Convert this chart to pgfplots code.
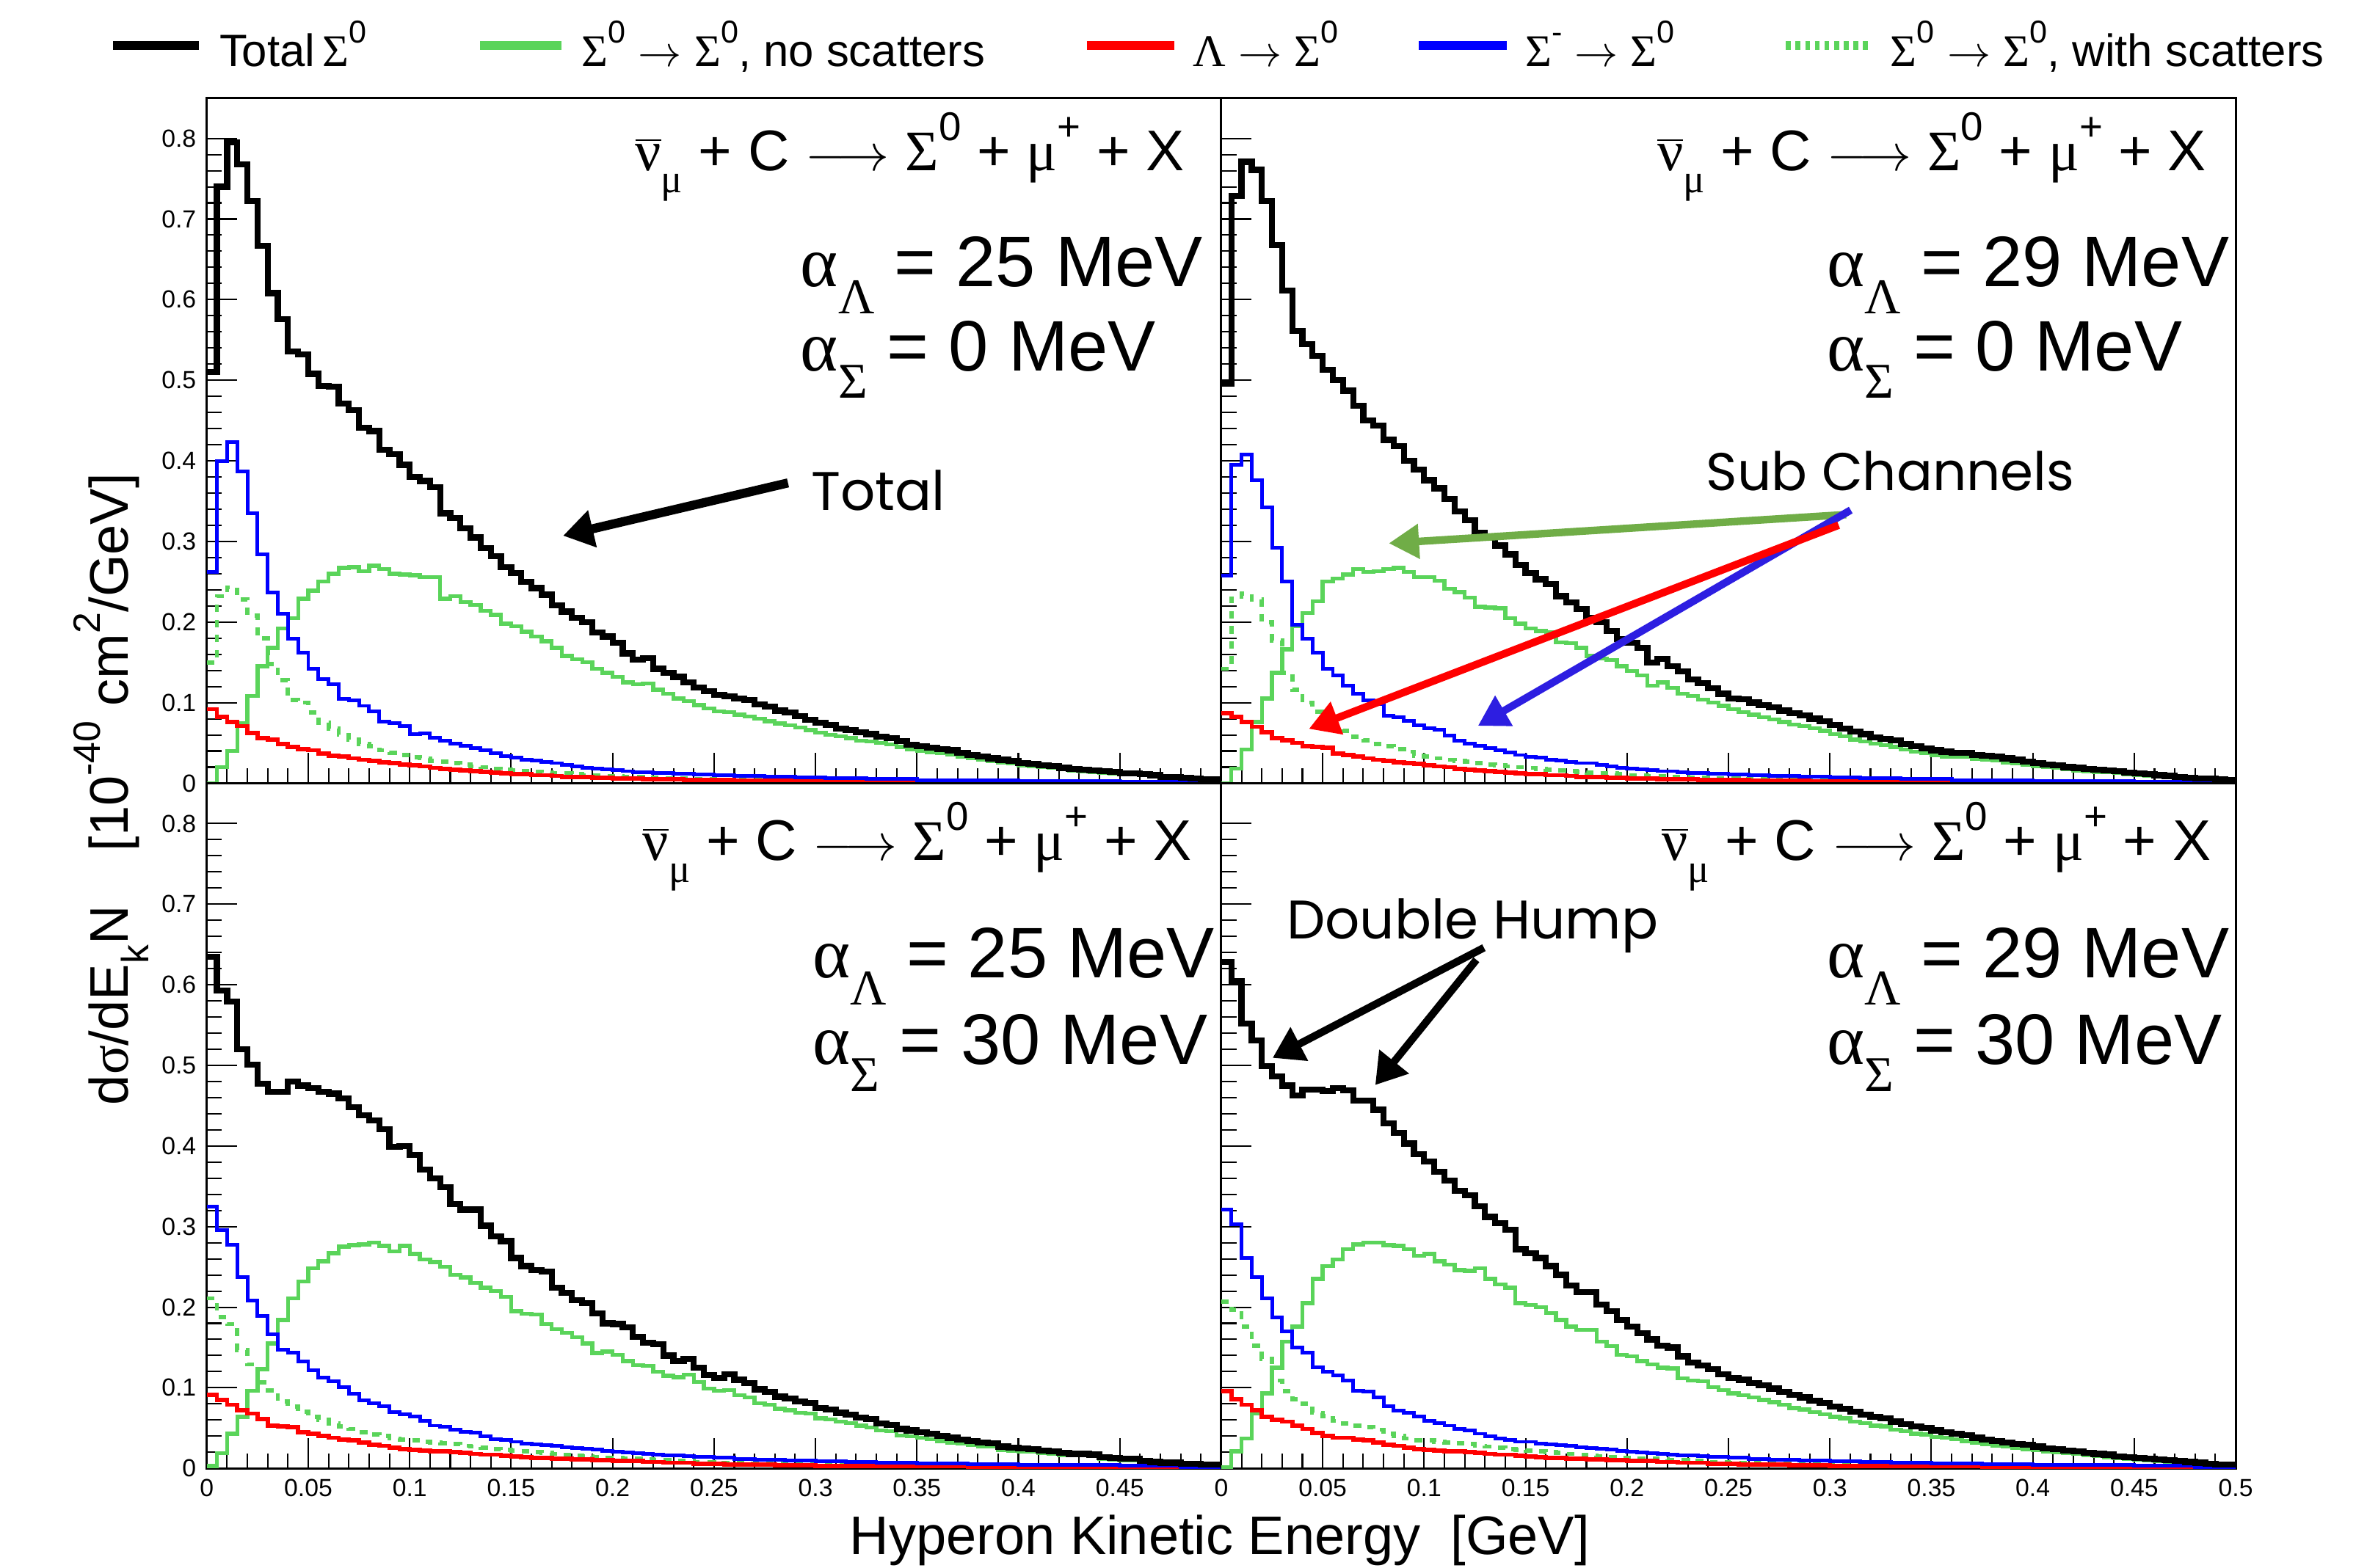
\documentclass[border=0pt]{standalone}
\usepackage{fontspec}
\setmainfont{Liberation Sans}
\newfontfamily\grk{Liberation Serif}
\newfontfamily\ann{Poppins}
\usepackage{pgfplots}
\pgfplotsset{compat=1.18}
\usepackage{pgfplotstable}
\usetikzlibrary{arrows.meta}

\definecolor{hgreen}{RGB}{90,212,90}
\definecolor{hred}{RGB}{255,0,0}
\definecolor{hblue}{RGB}{0,0,255}
\definecolor{agreen}{RGB}{112,173,71}
\definecolor{ablue}{RGB}{45,30,225}

\newcommand\su[1]{\raisebox{-0.38em}{\scalebox{0.7}{#1}}}
\newcommand\up[1]{\raisebox{0.52em}{\scalebox{0.7}{#1}}}
\newcommand\nubar{\ensuremath{\overline{\hbox{\grk ν}}}}
\newcommand\reac{\nubar\su{\grk μ} + C $\longrightarrow$ {\grk Σ}\up{0} + {\grk μ}\up{+} + X}

% x = lower bin edge (GeV); columns: total, Sigma0 no scatters, Lambda, Sigma-, Sigma0 with scatters
\pgfplotstableread{
x tot nos lam sig wsc
0.000 0.510 0.000 0.092 0.262 0.150
0.005 0.740 0.020 0.082 0.400 0.232
0.010 0.795 0.040 0.076 0.423 0.243
0.015 0.768 0.074 0.071 0.387 0.228
0.020 0.722 0.108 0.062 0.335 0.208
0.025 0.667 0.145 0.056 0.284 0.180
0.030 0.608 0.168 0.054 0.237 0.148
0.035 0.576 0.192 0.049 0.210 0.128
0.040 0.536 0.205 0.045 0.179 0.103
0.045 0.532 0.229 0.042 0.162 0.100
0.050 0.508 0.239 0.041 0.142 0.088
0.055 0.493 0.250 0.037 0.129 0.075
0.060 0.492 0.260 0.034 0.123 0.068
0.065 0.471 0.267 0.033 0.105 0.060
0.070 0.463 0.268 0.031 0.103 0.054
0.075 0.441 0.263 0.029 0.096 0.049
0.080 0.437 0.270 0.028 0.089 0.046
0.085 0.414 0.266 0.026 0.076 0.041
0.090 0.408 0.260 0.025 0.075 0.038
0.095 0.395 0.259 0.023 0.071 0.035
0.100 0.380 0.258 0.022 0.061 0.032
0.105 0.375 0.256 0.021 0.062 0.031
0.110 0.367 0.256 0.019 0.056 0.028
0.115 0.335 0.229 0.018 0.053 0.027
0.120 0.329 0.232 0.017 0.049 0.025
0.125 0.316 0.225 0.016 0.046 0.023
0.130 0.305 0.221 0.015 0.044 0.021
0.135 0.292 0.214 0.014 0.041 0.020
0.140 0.282 0.209 0.013 0.037 0.018
0.145 0.268 0.198 0.012 0.034 0.017
0.150 0.261 0.195 0.011 0.032 0.016
0.155 0.250 0.188 0.011 0.029 0.015
0.160 0.242 0.182 0.010 0.028 0.014
0.165 0.234 0.176 0.010 0.026 0.013
0.170 0.221 0.168 0.009 0.025 0.012
0.175 0.213 0.158 0.008 0.023 0.012
0.180 0.205 0.154 0.008 0.021 0.011
0.185 0.200 0.150 0.008 0.019 0.010
0.190 0.187 0.142 0.007 0.018 0.010
0.195 0.182 0.137 0.007 0.017 0.009
0.200 0.174 0.132 0.006 0.016 0.009
0.205 0.161 0.125 0.006 0.015 0.008
0.210 0.153 0.123 0.006 0.014 0.008
0.215 0.155 0.124 0.005 0.014 0.007
0.220 0.142 0.116 0.005 0.013 0.007
0.225 0.137 0.111 0.005 0.013 0.006
0.230 0.132 0.105 0.005 0.012 0.006
0.235 0.125 0.102 0.004 0.012 0.006
0.240 0.119 0.097 0.004 0.011 0.005
0.245 0.114 0.093 0.004 0.011 0.005
0.250 0.110 0.089 0.004 0.010 0.005
0.255 0.108 0.088 0.004 0.010 0.004
0.260 0.105 0.085 0.003 0.009 0.004
0.265 0.103 0.083 0.003 0.009 0.004
0.270 0.098 0.080 0.003 0.009 0.004
0.275 0.095 0.077 0.003 0.008 0.004
0.280 0.090 0.074 0.003 0.008 0.004
0.285 0.088 0.072 0.003 0.008 0.004
0.290 0.083 0.069 0.002 0.007 0.004
0.295 0.079 0.066 0.002 0.007 0.004
0.300 0.075 0.063 0.002 0.007 0.003
0.305 0.072 0.060 0.002 0.006 0.003
0.310 0.068 0.058 0.002 0.006 0.003
0.315 0.066 0.056 0.002 0.006 0.003
0.320 0.063 0.053 0.002 0.006 0.003
0.325 0.061 0.052 0.002 0.005 0.003
0.330 0.058 0.050 0.002 0.005 0.003
0.335 0.056 0.048 0.002 0.005 0.003
0.340 0.052 0.045 0.002 0.005 0.003
0.345 0.048 0.042 0.002 0.005 0.003
0.350 0.046 0.040 0.002 0.004 0.003
0.355 0.044 0.038 0.002 0.004 0.003
0.360 0.042 0.037 0.002 0.004 0.003
0.365 0.041 0.036 0.002 0.004 0.003
0.370 0.038 0.033 0.002 0.004 0.003
0.375 0.035 0.031 0.002 0.004 0.002
0.380 0.033 0.029 0.002 0.004 0.002
0.385 0.031 0.027 0.002 0.004 0.002
0.390 0.029 0.026 0.002 0.004 0.002
0.395 0.028 0.025 0.002 0.004 0.002
0.400 0.025 0.022 0.001 0.003 0.002
0.405 0.024 0.021 0.001 0.003 0.002
0.410 0.022 0.020 0.001 0.003 0.002
0.415 0.021 0.019 0.001 0.003 0.002
0.420 0.019 0.017 0.001 0.003 0.002
0.425 0.018 0.016 0.001 0.003 0.002
0.430 0.017 0.015 0.001 0.003 0.002
0.435 0.016 0.014 0.001 0.003 0.002
0.440 0.015 0.013 0.001 0.003 0.002
0.445 0.014 0.012 0.001 0.003 0.002
0.450 0.012 0.011 0.001 0.002 0.001
0.455 0.012 0.011 0.001 0.002 0.001
0.460 0.011 0.010 0.001 0.002 0.001
0.465 0.010 0.009 0.001 0.002 0.001
0.470 0.008 0.007 0.001 0.002 0.001
0.475 0.008 0.007 0.001 0.002 0.001
0.480 0.007 0.006 0.001 0.002 0.001
0.485 0.006 0.005 0.001 0.002 0.001
0.490 0.005 0.004 0.001 0.002 0.001
0.495 0.005 0.004 0.001 0.002 0.001
0.500 0.005 0.004 0.001 0.002 0.001
}\tTL

\pgfplotstableread{
x tot nos lam sig wsc
0.000 0.496 0.000 0.087 0.258 0.142
0.005 0.729 0.018 0.082 0.395 0.229
0.010 0.771 0.042 0.076 0.408 0.235
0.015 0.761 0.076 0.070 0.376 0.228
0.020 0.722 0.105 0.063 0.342 0.200
0.025 0.668 0.137 0.056 0.292 0.177
0.030 0.611 0.166 0.053 0.250 0.137
0.035 0.561 0.195 0.050 0.197 0.116
0.040 0.545 0.211 0.046 0.179 0.100
0.045 0.530 0.226 0.045 0.162 0.089
0.050 0.513 0.250 0.044 0.142 0.076
0.055 0.500 0.254 0.037 0.134 0.071
0.060 0.487 0.259 0.035 0.121 0.065
0.065 0.468 0.266 0.033 0.111 0.058
0.070 0.450 0.262 0.031 0.103 0.053
0.075 0.444 0.263 0.029 0.098 0.049
0.080 0.426 0.266 0.028 0.084 0.046
0.085 0.418 0.267 0.026 0.082 0.042
0.090 0.400 0.262 0.025 0.077 0.039
0.095 0.389 0.256 0.024 0.072 0.034
0.100 0.376 0.256 0.022 0.068 0.033
0.105 0.366 0.251 0.021 0.066 0.031
0.110 0.353 0.241 0.020 0.059 0.029
0.115 0.337 0.237 0.018 0.053 0.028
0.120 0.326 0.230 0.017 0.049 0.027
0.125 0.311 0.219 0.016 0.046 0.025
0.130 0.305 0.218 0.015 0.044 0.023
0.135 0.295 0.217 0.014 0.041 0.022
0.140 0.284 0.205 0.013 0.038 0.021
0.145 0.271 0.198 0.012 0.035 0.020
0.150 0.261 0.192 0.011 0.033 0.019
0.155 0.253 0.189 0.011 0.032 0.018
0.160 0.247 0.187 0.010 0.029 0.017
0.165 0.232 0.175 0.010 0.028 0.016
0.170 0.224 0.174 0.009 0.026 0.015
0.175 0.216 0.168 0.008 0.025 0.014
0.180 0.205 0.158 0.008 0.025 0.013
0.185 0.200 0.155 0.008 0.023 0.012
0.190 0.189 0.153 0.007 0.021 0.012
0.195 0.179 0.145 0.007 0.019 0.011
0.200 0.174 0.139 0.006 0.018 0.010
0.205 0.168 0.134 0.006 0.017 0.010
0.210 0.150 0.121 0.006 0.016 0.009
0.215 0.154 0.125 0.005 0.015 0.009
0.220 0.145 0.118 0.005 0.015 0.008
0.225 0.139 0.111 0.005 0.014 0.008
0.230 0.129 0.108 0.005 0.013 0.007
0.235 0.124 0.104 0.004 0.013 0.007
0.240 0.118 0.100 0.004 0.012 0.006
0.245 0.111 0.096 0.004 0.012 0.006
0.250 0.105 0.092 0.004 0.011 0.006
0.255 0.104 0.088 0.004 0.011 0.005
0.260 0.100 0.085 0.003 0.010 0.005
0.265 0.097 0.082 0.003 0.010 0.005
0.270 0.094 0.079 0.003 0.009 0.005
0.275 0.090 0.076 0.003 0.009 0.004
0.280 0.087 0.073 0.003 0.009 0.004
0.285 0.084 0.071 0.003 0.008 0.004
0.290 0.080 0.068 0.002 0.008 0.004
0.295 0.077 0.065 0.002 0.008 0.004
0.300 0.072 0.061 0.002 0.007 0.003
0.305 0.068 0.058 0.002 0.007 0.003
0.310 0.064 0.054 0.002 0.007 0.003
0.315 0.061 0.052 0.002 0.006 0.003
0.320 0.057 0.049 0.002 0.006 0.003
0.325 0.055 0.047 0.002 0.006 0.003
0.330 0.053 0.045 0.002 0.006 0.003
0.335 0.049 0.042 0.002 0.005 0.003
0.340 0.046 0.039 0.002 0.005 0.003
0.345 0.043 0.037 0.002 0.005 0.003
0.350 0.041 0.035 0.002 0.005 0.003
0.355 0.039 0.033 0.002 0.005 0.003
0.360 0.038 0.033 0.002 0.004 0.003
0.365 0.038 0.033 0.002 0.004 0.003
0.370 0.035 0.030 0.002 0.004 0.003
0.375 0.034 0.029 0.002 0.004 0.002
0.380 0.033 0.028 0.002 0.004 0.002
0.385 0.031 0.026 0.002 0.004 0.002
0.390 0.029 0.025 0.002 0.004 0.002
0.395 0.027 0.023 0.002 0.004 0.002
0.400 0.025 0.021 0.001 0.003 0.002
0.405 0.023 0.020 0.001 0.003 0.002
0.410 0.022 0.019 0.001 0.003 0.002
0.415 0.020 0.017 0.001 0.003 0.002
0.420 0.019 0.016 0.001 0.003 0.002
0.425 0.018 0.015 0.001 0.003 0.002
0.430 0.017 0.014 0.001 0.003 0.002
0.435 0.016 0.014 0.001 0.003 0.002
0.440 0.015 0.013 0.001 0.003 0.002
0.445 0.013 0.011 0.001 0.003 0.002
0.450 0.012 0.010 0.001 0.002 0.001
0.455 0.011 0.009 0.001 0.002 0.001
0.460 0.010 0.009 0.001 0.002 0.001
0.465 0.009 0.008 0.001 0.002 0.001
0.470 0.008 0.007 0.001 0.002 0.001
0.475 0.007 0.006 0.001 0.002 0.001
0.480 0.006 0.005 0.001 0.002 0.001
0.485 0.006 0.005 0.001 0.002 0.001
0.490 0.005 0.004 0.001 0.002 0.001
0.495 0.004 0.003 0.001 0.002 0.001
0.500 0.004 0.003 0.001 0.002 0.001
}\tTR

\pgfplotstableread{
x tot nos lam sig wsc
0.000 0.635 0.003 0.091 0.325 0.211
0.005 0.593 0.019 0.085 0.296 0.188
0.010 0.579 0.043 0.079 0.277 0.179
0.015 0.520 0.064 0.072 0.237 0.147
0.020 0.501 0.096 0.068 0.208 0.129
0.025 0.477 0.123 0.061 0.189 0.107
0.030 0.467 0.155 0.053 0.166 0.097
0.035 0.467 0.184 0.052 0.147 0.083
0.040 0.480 0.211 0.051 0.144 0.077
0.045 0.475 0.232 0.045 0.133 0.070
0.050 0.472 0.248 0.043 0.122 0.064
0.055 0.467 0.257 0.040 0.113 0.060
0.060 0.465 0.267 0.038 0.108 0.056
0.065 0.459 0.275 0.036 0.101 0.052
0.070 0.448 0.277 0.035 0.093 0.049
0.075 0.438 0.278 0.032 0.084 0.045
0.080 0.432 0.280 0.029 0.081 0.042
0.085 0.421 0.276 0.028 0.077 0.040
0.090 0.399 0.269 0.026 0.070 0.037
0.095 0.400 0.276 0.024 0.067 0.036
0.100 0.389 0.266 0.023 0.064 0.035
0.105 0.371 0.259 0.022 0.059 0.033
0.110 0.360 0.256 0.021 0.053 0.032
0.115 0.349 0.250 0.021 0.052 0.031
0.120 0.328 0.240 0.020 0.048 0.030
0.125 0.321 0.237 0.019 0.045 0.028
0.130 0.321 0.230 0.018 0.044 0.027
0.135 0.301 0.224 0.017 0.040 0.026
0.140 0.288 0.220 0.017 0.036 0.024
0.145 0.282 0.213 0.016 0.035 0.023
0.150 0.261 0.195 0.015 0.033 0.022
0.155 0.251 0.192 0.014 0.031 0.021
0.160 0.246 0.191 0.013 0.030 0.020
0.165 0.244 0.179 0.013 0.029 0.019
0.170 0.224 0.173 0.012 0.028 0.018
0.175 0.218 0.168 0.012 0.026 0.017
0.180 0.209 0.163 0.011 0.025 0.016
0.185 0.205 0.155 0.011 0.024 0.015
0.190 0.192 0.143 0.010 0.023 0.014
0.195 0.180 0.145 0.010 0.022 0.013
0.200 0.179 0.141 0.009 0.021 0.013
0.205 0.175 0.133 0.009 0.020 0.012
0.210 0.163 0.128 0.009 0.019 0.012
0.215 0.156 0.127 0.008 0.018 0.011
0.220 0.154 0.120 0.008 0.017 0.010
0.225 0.140 0.115 0.007 0.016 0.010
0.230 0.133 0.113 0.007 0.016 0.009
0.235 0.136 0.116 0.007 0.015 0.009
0.240 0.125 0.107 0.006 0.014 0.008
0.245 0.116 0.099 0.006 0.014 0.008
0.250 0.112 0.096 0.006 0.013 0.007
0.255 0.117 0.097 0.005 0.013 0.007
0.260 0.110 0.091 0.005 0.012 0.007
0.265 0.106 0.088 0.005 0.012 0.006
0.270 0.098 0.081 0.005 0.011 0.006
0.275 0.095 0.079 0.005 0.011 0.006
0.280 0.089 0.074 0.004 0.011 0.006
0.285 0.087 0.072 0.004 0.010 0.005
0.290 0.083 0.069 0.004 0.010 0.005
0.295 0.081 0.068 0.004 0.010 0.005
0.300 0.075 0.062 0.003 0.009 0.004
0.305 0.073 0.061 0.003 0.009 0.004
0.310 0.069 0.058 0.003 0.009 0.004
0.315 0.067 0.056 0.003 0.008 0.004
0.320 0.063 0.053 0.003 0.008 0.004
0.325 0.061 0.051 0.003 0.008 0.004
0.330 0.056 0.047 0.003 0.007 0.003
0.335 0.054 0.046 0.003 0.007 0.003
0.340 0.049 0.041 0.003 0.007 0.003
0.345 0.047 0.040 0.003 0.007 0.003
0.350 0.045 0.038 0.003 0.006 0.003
0.355 0.043 0.036 0.003 0.006 0.003
0.360 0.040 0.034 0.003 0.006 0.003
0.365 0.038 0.032 0.003 0.006 0.003
0.370 0.036 0.031 0.003 0.006 0.003
0.375 0.034 0.029 0.002 0.005 0.002
0.380 0.032 0.027 0.002 0.005 0.002
0.385 0.031 0.027 0.002 0.005 0.002
0.390 0.027 0.023 0.002 0.005 0.002
0.395 0.026 0.022 0.002 0.005 0.002
0.400 0.025 0.021 0.002 0.004 0.002
0.405 0.024 0.021 0.002 0.004 0.002
0.410 0.022 0.019 0.002 0.004 0.002
0.415 0.021 0.018 0.002 0.004 0.002
0.420 0.019 0.016 0.002 0.004 0.002
0.425 0.018 0.016 0.002 0.004 0.002
0.430 0.018 0.016 0.002 0.004 0.002
0.435 0.017 0.015 0.002 0.004 0.002
0.440 0.014 0.012 0.002 0.004 0.002
0.445 0.013 0.011 0.002 0.004 0.002
0.450 0.012 0.010 0.001 0.003 0.001
0.455 0.012 0.010 0.001 0.003 0.001
0.460 0.009 0.008 0.001 0.003 0.001
0.465 0.008 0.007 0.001 0.003 0.001
0.470 0.007 0.006 0.001 0.003 0.001
0.475 0.007 0.006 0.001 0.003 0.001
0.480 0.006 0.005 0.001 0.002 0.001
0.485 0.006 0.005 0.001 0.002 0.001
0.490 0.005 0.004 0.001 0.002 0.001
0.495 0.005 0.004 0.001 0.002 0.001
0.500 0.005 0.004 0.001 0.002 0.001
}\tBL

\pgfplotstableread{
x tot nos lam sig wsc
0.000 0.628 0.001 0.096 0.321 0.207
0.005 0.605 0.021 0.086 0.303 0.197
0.010 0.552 0.037 0.079 0.261 0.176
0.015 0.531 0.068 0.072 0.237 0.152
0.020 0.499 0.093 0.064 0.211 0.136
0.025 0.486 0.125 0.060 0.187 0.109
0.030 0.475 0.157 0.058 0.170 0.096
0.035 0.463 0.176 0.053 0.150 0.086
0.040 0.470 0.205 0.049 0.144 0.080
0.045 0.470 0.235 0.044 0.125 0.069
0.050 0.468 0.251 0.040 0.120 0.065
0.055 0.472 0.259 0.038 0.115 0.059
0.060 0.469 0.272 0.038 0.109 0.056
0.065 0.456 0.278 0.036 0.096 0.053
0.070 0.456 0.280 0.035 0.095 0.051
0.075 0.445 0.280 0.032 0.088 0.048
0.080 0.428 0.277 0.029 0.077 0.043
0.085 0.416 0.276 0.028 0.072 0.040
0.090 0.403 0.272 0.026 0.069 0.037
0.095 0.390 0.264 0.024 0.064 0.035
0.100 0.381 0.266 0.023 0.059 0.035
0.105 0.368 0.257 0.022 0.056 0.033
0.110 0.357 0.253 0.021 0.053 0.032
0.115 0.344 0.246 0.021 0.049 0.031
0.120 0.339 0.245 0.020 0.047 0.030
0.125 0.325 0.248 0.019 0.043 0.028
0.130 0.312 0.235 0.018 0.040 0.027
0.135 0.304 0.228 0.017 0.037 0.026
0.140 0.296 0.224 0.017 0.035 0.024
0.145 0.272 0.205 0.016 0.033 0.023
0.150 0.267 0.203 0.015 0.033 0.022
0.155 0.261 0.200 0.014 0.031 0.021
0.160 0.251 0.193 0.013 0.030 0.020
0.165 0.240 0.184 0.013 0.029 0.019
0.170 0.227 0.176 0.012 0.028 0.018
0.175 0.219 0.172 0.012 0.026 0.017
0.180 0.219 0.172 0.011 0.025 0.016
0.185 0.203 0.157 0.011 0.024 0.015
0.190 0.195 0.152 0.010 0.023 0.014
0.195 0.184 0.141 0.010 0.022 0.013
0.200 0.176 0.139 0.009 0.021 0.013
0.205 0.168 0.133 0.009 0.020 0.012
0.210 0.160 0.129 0.009 0.019 0.012
0.215 0.152 0.125 0.008 0.018 0.011
0.220 0.150 0.124 0.008 0.017 0.010
0.225 0.139 0.112 0.007 0.016 0.010
0.230 0.131 0.109 0.007 0.016 0.009
0.235 0.128 0.108 0.007 0.015 0.009
0.240 0.123 0.101 0.006 0.014 0.008
0.245 0.117 0.097 0.006 0.014 0.008
0.250 0.112 0.093 0.006 0.013 0.007
0.255 0.110 0.091 0.005 0.013 0.007
0.260 0.106 0.088 0.005 0.012 0.007
0.265 0.103 0.085 0.005 0.012 0.006
0.270 0.099 0.082 0.005 0.011 0.006
0.275 0.095 0.079 0.005 0.011 0.006
0.280 0.091 0.075 0.004 0.011 0.006
0.285 0.088 0.073 0.004 0.010 0.005
0.290 0.084 0.070 0.004 0.010 0.005
0.295 0.081 0.067 0.004 0.010 0.005
0.300 0.077 0.064 0.003 0.009 0.004
0.305 0.074 0.062 0.003 0.009 0.004
0.310 0.070 0.058 0.003 0.009 0.004
0.315 0.067 0.056 0.003 0.008 0.004
0.320 0.064 0.053 0.003 0.008 0.004
0.325 0.062 0.052 0.003 0.008 0.004
0.330 0.058 0.048 0.003 0.007 0.003
0.335 0.055 0.046 0.003 0.007 0.003
0.340 0.052 0.043 0.003 0.007 0.003
0.345 0.050 0.042 0.003 0.007 0.003
0.350 0.047 0.039 0.003 0.006 0.003
0.355 0.045 0.038 0.003 0.006 0.003
0.360 0.043 0.036 0.003 0.006 0.003
0.365 0.041 0.034 0.003 0.006 0.003
0.370 0.038 0.032 0.003 0.006 0.003
0.375 0.036 0.030 0.002 0.005 0.002
0.380 0.034 0.028 0.002 0.005 0.002
0.385 0.032 0.027 0.002 0.005 0.002
0.390 0.030 0.025 0.002 0.005 0.002
0.395 0.029 0.024 0.002 0.005 0.002
0.400 0.027 0.023 0.002 0.004 0.002
0.405 0.025 0.021 0.002 0.004 0.002
0.410 0.024 0.020 0.002 0.004 0.002
0.415 0.022 0.019 0.002 0.004 0.002
0.420 0.021 0.018 0.002 0.004 0.002
0.425 0.019 0.016 0.002 0.004 0.002
0.430 0.018 0.015 0.002 0.004 0.002
0.435 0.017 0.014 0.002 0.004 0.002
0.440 0.015 0.013 0.002 0.004 0.002
0.445 0.014 0.012 0.002 0.004 0.002
0.450 0.013 0.011 0.001 0.003 0.001
0.455 0.012 0.010 0.001 0.003 0.001
0.460 0.011 0.009 0.001 0.003 0.001
0.465 0.010 0.008 0.001 0.003 0.001
0.470 0.009 0.007 0.001 0.003 0.001
0.475 0.008 0.007 0.001 0.003 0.001
0.480 0.007 0.006 0.001 0.002 0.001
0.485 0.006 0.005 0.001 0.002 0.001
0.490 0.005 0.004 0.001 0.002 0.001
0.495 0.005 0.004 0.001 0.002 0.001
0.500 0.005 0.004 0.001 0.002 0.001
}\tBR

\pgfplotsset{
  panel/.style={
    scale only axis, width=336pt, height=227pt,
    xmin=0, xmax=0.5, ymin=0, ymax=0.85,
    xtick={0,0.05,0.1,0.15,0.2,0.25,0.3,0.35,0.4,0.45,0.5},
    ytick={0,0.1,0.2,0.3,0.4,0.5,0.6,0.7,0.8},
    minor x tick num=4, minor y tick num=4,
    tick pos=left, tick align=inside,
    major tick length=10pt, minor tick length=5pt,
    every tick/.style={black, line width=0.5pt},
    axis line style={line width=0.7pt},
    ticklabel style={font=\fontsize{8.2}{9}\selectfont},
    xticklabels={}, yticklabels={},
  },
  hist/.style={const plot mark left},
}
\newcommand\curves[1]{%
  \addplot[hist, hgreen, line width=1.3pt] table[x=x,y=nos]{#1};
  \addplot[hist, hgreen, line width=1.4pt, dash pattern=on 2.5pt off 2.5pt] table[x=x,y=wsc]{#1};
  \addplot[hist, hred, line width=1.4pt] table[x=x,y=lam]{#1};
  \addplot[hist, hblue, line width=1.2pt] table[x=x,y=sig]{#1};
  \addplot[hist, black, line width=2pt] table[x=x,y=tot]{#1};
}

\begin{document}
\begin{tikzpicture}
\useasboundingbox (0,0) rectangle (784pt,519.5pt);

\begin{axis}[panel, at={(68.5pt,260pt)}, anchor=south west,
  yticklabels={0,0.1,0.2,0.3,0.4,0.5,0.6,0.7,0.8}]
\curves{\tTL}
\end{axis}
\begin{axis}[panel, at={(404.5pt,260pt)}, anchor=south west]
\curves{\tTR}
\end{axis}
\begin{axis}[panel, at={(68.5pt,33pt)}, anchor=south west,
  yticklabels={0,0.1,0.2,0.3,0.4,0.5,0.6,0.7,0.8},
  xticklabels={0,0.05,0.1,0.15,0.2,0.25,0.3,0.35,0.4,0.45,{}}]
\curves{\tBL}
\end{axis}
\begin{axis}[panel, at={(404.5pt,33pt)}, anchor=south west,
  xticklabels={0,0.05,0.1,0.15,0.2,0.25,0.3,0.35,0.4,0.45,0.5}]
\curves{\tBR}
\end{axis}

% legend
\begin{scope}[every node/.style={anchor=base west, inner sep=0pt, font=\fontsize{15}{18}\selectfont}]
\draw[black, line width=3pt] (37.5pt,504.5pt) -- (66pt,504.5pt);
\node at (72.5pt,497.5pt) {Total\,{\grk Σ}\up{0}};
\draw[hgreen, line width=3pt] (159pt,504.5pt) -- (186pt,504.5pt);
\node at (192.5pt,497.5pt) {{\grk Σ}\up{0} $\rightarrow$ {\grk Σ}\up{0}, no scatters};
\draw[hred, line width=3pt] (360pt,504.5pt) -- (389pt,504.5pt);
\node at (395pt,497.5pt) {{\grk Λ} $\rightarrow$ {\grk Σ}\up{0}};
\draw[hblue, line width=3pt] (470pt,504.5pt) -- (499pt,504.5pt);
\node at (505pt,497.5pt) {{\grk Σ}\up{-} $\rightarrow$ {\grk Σ}\up{0}};
\draw[hgreen, line width=3pt, dash pattern=on 1.6pt off 1.6pt] (591.5pt,504.5pt) -- (620pt,504.5pt);
\node at (626pt,497.5pt) {{\grk Σ}\up{0} $\rightarrow$ {\grk Σ}\up{0}, with scatters};
\end{scope}

% panel labels
\begin{scope}[every node/.style={inner sep=0pt}]
\node[anchor=base east, font=\fontsize{19}{23}\selectfont] at (392.5pt,463pt) {\reac};
\node[anchor=base east, font=\fontsize{19}{23}\selectfont] at (731pt,463pt) {\reac};
\node[anchor=base east, font=\fontsize{19}{23}\selectfont] at (395pt,234.5pt) {\reac};
\node[anchor=base east, font=\fontsize{19}{23}\selectfont] at (732.5pt,234.5pt) {\reac};
\node[anchor=base west, font=\fontsize{23.7}{28}\selectfont] at (265pt,424.5pt) {{\grk α}\su{\grk Λ} = 25 MeV};
\node[anchor=base west, font=\fontsize{23.7}{28}\selectfont] at (265pt,396.5pt) {{\grk α}\su{\grk Σ} = 0 MeV};
\node[anchor=base west, font=\fontsize{23.7}{28}\selectfont] at (605pt,424.5pt) {{\grk α}\su{\grk Λ} = 29 MeV};
\node[anchor=base west, font=\fontsize{23.7}{28}\selectfont] at (605pt,396.5pt) {{\grk α}\su{\grk Σ} = 0 MeV};
\node[anchor=base west, font=\fontsize{23.7}{28}\selectfont] at (269pt,195.5pt) {{\grk α}\su{\grk Λ} = 25 MeV};
\node[anchor=base west, font=\fontsize{23.7}{28}\selectfont] at (269pt,167pt) {{\grk α}\su{\grk Σ} = 30 MeV};
\node[anchor=base west, font=\fontsize{23.7}{28}\selectfont] at (605pt,195.5pt) {{\grk α}\su{\grk Λ} = 29 MeV};
\node[anchor=base west, font=\fontsize{23.7}{28}\selectfont] at (605pt,167pt) {{\grk α}\su{\grk Σ} = 30 MeV};

% annotations
\node[anchor=base west, font=\ann\fontsize{18}{22}\selectfont] at (268.5pt,350.5pt) {Total};
\node[anchor=base west, font=\ann\fontsize{17.6}{22}\selectfont] at (565pt,357pt) {Sub Channels};
\node[anchor=base west, font=\ann\fontsize{18}{22}\selectfont] at (426pt,208.5pt) {Double Hump};
\end{scope}
\draw[black, line width=3pt, -{Triangle[length=10pt,width=12pt]}] (261pt,359.5pt) -- (186.5pt,342pt);
\draw[agreen, line width=2.5pt, -{Triangle[length=10pt,width=11pt]}] (611.5pt,349pt) -- (460pt,339.5pt);
\draw[ablue, line width=2.5pt, -{Triangle[length=10pt,width=11pt]}] (613pt,350.5pt) -- (489.5pt,279pt);
\draw[hred, line width=2.5pt, -{Triangle[length=10pt,width=11pt]}] (609pt,345.5pt) -- (433.5pt,278pt);
\draw[black, line width=2.5pt, -{Triangle[length=10pt,width=12pt]}] (491.5pt,205.5pt) -- (421.5pt,169pt);
\draw[black, line width=2.5pt, -{Triangle[length=10pt,width=12pt]}] (489pt,201.5pt) -- (455.5pt,160pt);

% axis titles
\node[anchor=base, inner sep=0pt, font=\fontsize{18}{22}\selectfont] at (404pt,4.5pt) {Hyperon Kinetic Energy\ \ [GeV]};
\node[anchor=base, rotate=90, inner sep=0pt, font=\fontsize{18}{22}\selectfont] at (42.5pt,258pt)
  {d{\grk σ}/dE\su{k}N\quad[10\up{-40} cm\up{2}/GeV]};
\end{tikzpicture}
\end{document}
